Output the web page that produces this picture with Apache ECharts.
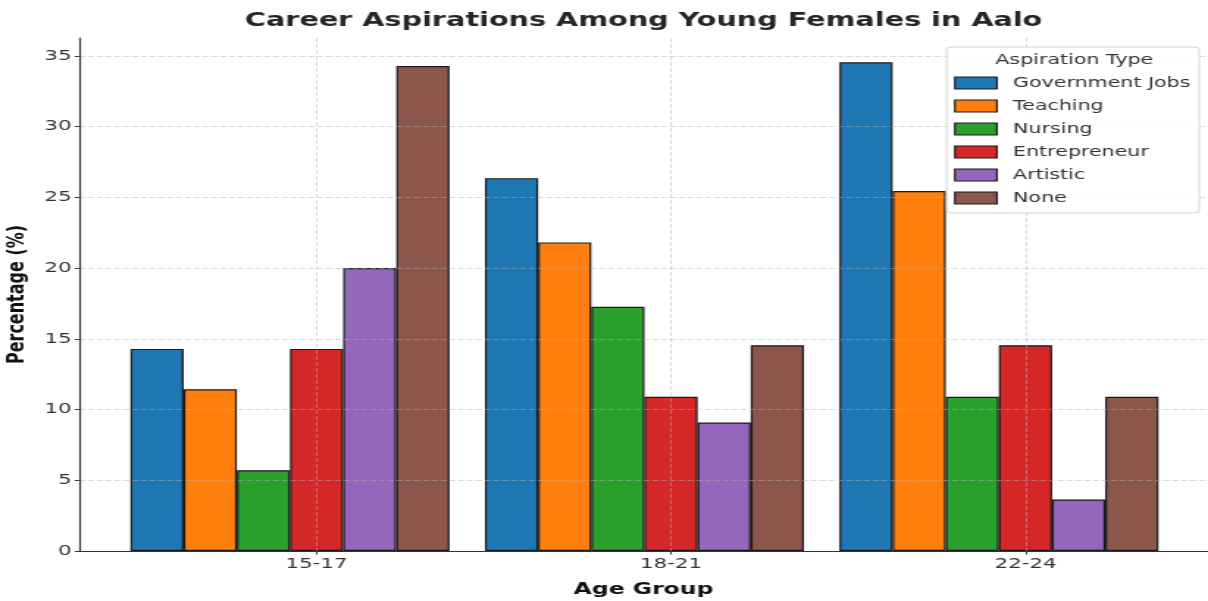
<!DOCTYPE html>
<html>
<head>
<meta charset="utf-8">
<title>Career Aspirations Among Young Females in Aalo</title>
<script src="https://cdn.jsdelivr.net/npm/echarts@6/dist/echarts.min.js"></script>
<style>
  html, body { margin: 0; padding: 0; background: #ffffff; overflow: hidden; }
  /* The figure is laid out on a narrower canvas and widened to the page width. */
  #chart { width: 822px; height: 601px; transform: scaleX(1.4696); transform-origin: 0 0; }
</style>
</head>
<body>
<div id="chart"></div>
<script>
// Age groups (x tick labels) and aspiration types (legend entries)
const ageGroups = ['15-17', '18-21', '22-24'];
const aspirationTypes = ['Government Jobs', 'Teaching', 'Nursing', 'Entrepreneur', 'Artistic', 'None'];

// Share of respondents (%) per age group
const governmentJobs = [14.29, 26.36, 34.55];
const teaching       = [11.43, 21.82, 25.45];
const nursing        = [5.71, 17.27, 10.91];
const entrepreneur   = [14.29, 10.91, 14.55];
const artistic       = [20.00, 9.09, 3.64];
const noneChosen     = [34.29, 14.55, 10.91];

// Y axis tick values
const percentTicks = [0, 5, 10, 15, 20, 25, 30, 35];

const seriesValues = [governmentJobs, teaching, nursing, entrepreneur, artistic, noneChosen];
const palette = ['#1f77b4', '#ff7f0e', '#2ca02c', '#d62728', '#9467bd', '#8c564b'];

// Each bar is one step wide; the fourth bar of a group sits on the group tick.
const BAR_STEP = 0.15;
const groupTicks = ageGroups.map((_, g) => g);

const FONT = 'DejaVu Sans';
const gridLine = { color: 'rgba(176,176,176,0.6)', width: 0.8, type: [4, 2] };

const chart = echarts.init(document.getElementById('chart'), null, { renderer: 'canvas' });

const series = aspirationTypes.map((name, i) => ({
  name: name,
  type: 'bar',
  data: seriesValues[i].map((v, g) => [g + (i - 3) * BAR_STEP, v]),
  barWidth: '100%',
  barGap: '-100%',
  itemStyle: { color: palette[i], borderColor: '#1a1a1a', borderWidth: 1.2 },
  emphasis: { disabled: true }
}));

// Plot area (in canvas units) used to centre the title over the axes
const PLOT_LEFT = 53.8;
const CANVAS_WIDTH = 822;

chart.setOption({
  animation: false,
  color: palette,
  graphic: [{
    type: 'text',
    x: (PLOT_LEFT + CANVAS_WIDTH) / 2,
    y: 21,
    z: 100,
    style: {
      text: 'Career Aspirations Among Young Females in Aalo',
      align: 'center',
      verticalAlign: 'middle',
      fontFamily: FONT,
      fontSize: 19.5,
      fontWeight: 'bold',
      fill: '#262626'
    }
  }, {
    type: 'text',
    x: 731,
    y: 60,
    z: 100,
    style: {
      text: 'Aspiration Type',
      align: 'center',
      verticalAlign: 'middle',
      fontFamily: FONT,
      fontSize: 14,
      fill: '#333333'
    }
  }],
  legend: {
    data: aspirationTypes,
    orient: 'vertical',
    right: 6,
    top: 47,
    icon: 'rect',
    itemWidth: 28.6,
    itemHeight: 12,
    itemGap: 7,
    padding: [28, 6, 7, 5],
    borderColor: '#d4d4d4',
    borderWidth: 1,
    borderRadius: 3,
    backgroundColor: 'rgba(255,255,255,0.85)',
    itemStyle: { borderColor: '#1a1a1a', borderWidth: 1.2 },
    textStyle: { fontFamily: FONT, fontSize: 14, color: '#333333', lineHeight: 16, padding: [0, 0, 0, 6] },
    selectedMode: false
  },
  grid: {
    left: PLOT_LEFT,
    right: 0,
    top: 38,
    bottom: 50,
    containLabel: false,
    outerBoundsMode: 'none'
  },
  xAxis: {
    type: 'value',
    min: -0.67,
    max: 2.515,
    z: 3,
    name: 'Age Group',
    nameLocation: 'middle',
    nameGap: 31,
    nameTextStyle: { fontFamily: FONT, fontSize: 16, fontWeight: 'bold', color: '#111111' },
    axisLine: { show: true, onZero: false, lineStyle: { color: '#333333', width: 1.2 } },
    axisTick: { show: true, length: 3.5, customValues: groupTicks, lineStyle: { color: '#333333' } },
    axisLabel: {
      customValues: groupTicks,
      formatter: (v) => ageGroups[Math.round(v)],
      margin: 6,
      fontFamily: FONT,
      fontSize: 14.5,
      color: '#333333'
    },
    splitLine: { show: true, lineStyle: gridLine }
  },
  yAxis: {
    type: 'value',
    min: 0,
    max: 36.27,
    z: 3,
    name: 'Percentage (%)',
    nameLocation: 'middle',
    nameGap: 30,
    nameTextStyle: { fontFamily: FONT, fontSize: 16, fontWeight: 'bold', color: '#111111' },
    axisLine: { show: true, onZero: false, lineStyle: { color: '#333333', width: 1.2 } },
    axisTick: { show: true, length: 3, customValues: percentTicks, lineStyle: { color: '#333333' } },
    axisLabel: {
      customValues: percentTicks,
      margin: 5,
      fontFamily: FONT,
      fontSize: 14.5,
      color: '#333333'
    },
    splitLine: { show: true, lineStyle: gridLine }
  },
  series: series
});
</script>
</body>
</html>
